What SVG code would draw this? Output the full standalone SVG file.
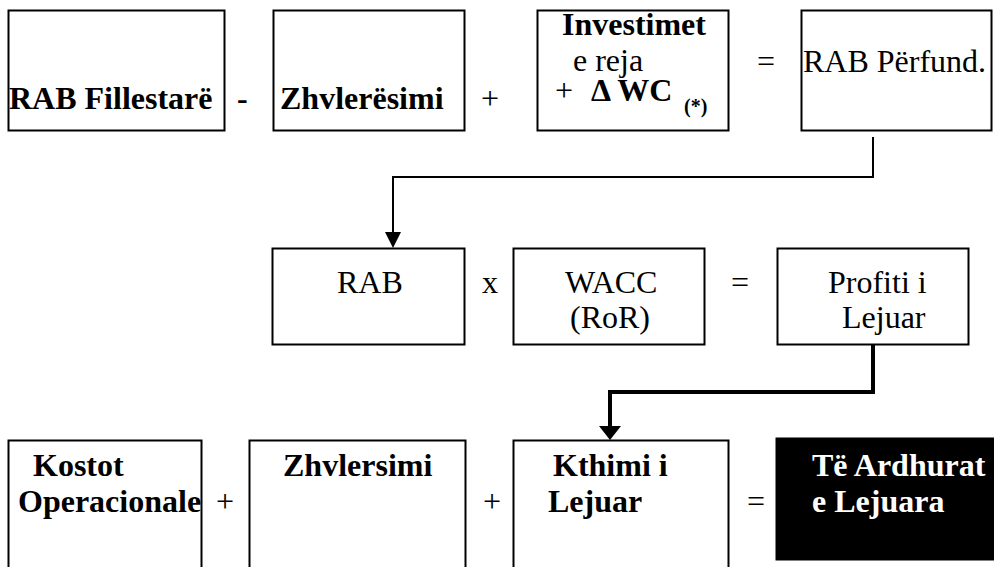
<svg xmlns="http://www.w3.org/2000/svg" width="994" height="567" viewBox="0 0 994 567">
<style>
  .box { fill: #fff; stroke: #000; stroke-width: 2; }
  .dark { fill: #000; stroke: #000; stroke-width: 1; }
  text { font-family: "Liberation Serif", "Times New Roman", serif; font-size: 32px; fill: #000; }
  .b { font-weight: bold; }
  .w { fill: #fff; }
  .sub { font-size: 20px; font-weight: bold; }
  .conn { fill: none; stroke: #000; }
</style>
<defs>
  <marker id="arr1" markerUnits="userSpaceOnUse" viewBox="0 0 16 16" refX="0" refY="8" markerWidth="16" markerHeight="16" orient="auto">
    <path d="M0,0 L16,8 L0,16 z" fill="#000"/>
  </marker>
  <marker id="arr2" markerUnits="userSpaceOnUse" viewBox="0 0 14 22" refX="0" refY="11" markerWidth="14" markerHeight="22" orient="auto">
    <path d="M0,0 L14,11 L0,22 z" fill="#000"/>
  </marker>
</defs>

<g id="connectors">
  <path class="conn" stroke-width="2" d="M873,137 V177 H393 V232" marker-end="url(#arr1)"/>
  <path class="conn" stroke-width="4" d="M873,344 V392 H610 V426" marker-end="url(#arr2)"/>
</g>

<!-- Row 1 -->
<g id="rab-fillestare">
  <rect class="box" x="8.5" y="10.5" width="216" height="120"/>
  <text class="b" x="9" y="109">RAB Fillestarë</text>
</g>
<text class="b" x="237" y="109">-</text>
<g id="zhvleresimi">
  <rect class="box" x="273.5" y="10.5" width="191" height="120"/>
  <text class="b" x="280" y="109">Zhvlerësimi</text>
</g>
<text x="481" y="109">+</text>
<g id="investimet">
  <rect class="box" x="537.5" y="10.5" width="191" height="120"/>
  <text class="b" x="562" y="35">Investimet</text>
  <text x="573" y="71">e reja</text>
  <text x="555" y="101">+</text>
  <text class="b" x="591" y="101">Δ WC</text>
  <text class="sub" x="684" y="113">(*)</text>
</g>
<text x="757" y="72">=</text>
<g id="rab-perfund">
  <rect class="box" x="801.5" y="10.5" width="190" height="120"/>
  <text x="803" y="72">RAB Përfund.</text>
</g>

<!-- Row 2 -->
<g id="rab">
  <rect class="box" x="272.5" y="248.5" width="192" height="96"/>
  <text x="337" y="293">RAB</text>
</g>
<text x="482" y="293">x</text>
<g id="wacc">
  <rect class="box" x="513.5" y="248.5" width="191" height="96"/>
  <text x="565" y="293">WACC</text>
  <text x="570" y="328">(RoR)</text>
</g>
<text x="731" y="293">=</text>
<g id="profiti">
  <rect class="box" x="777.5" y="248.5" width="191" height="96"/>
  <text x="828" y="293">Profiti i</text>
  <text x="842" y="328">Lejuar</text>
</g>

<!-- Row 3 -->
<g id="kostot">
  <rect class="box" x="8.5" y="440.5" width="193" height="140"/>
  <text class="b" x="33" y="476">Kostot</text>
  <text class="b" x="18" y="512">Operacionale</text>
</g>
<text x="216" y="512">+</text>
<g id="zhvlersimi">
  <rect class="box" x="249.5" y="440.5" width="216" height="140"/>
  <text class="b" x="283" y="476">Zhvlersimi</text>
</g>
<text x="483" y="512">+</text>
<g id="kthimi">
  <rect class="box" x="513.5" y="440.5" width="215" height="140"/>
  <text class="b" x="553" y="476">Kthimi i</text>
  <text class="b" x="548" y="512">Lejuar</text>
</g>
<text x="747" y="512">=</text>
<g id="te-ardhurat">
  <rect class="dark" x="776" y="438" width="220" height="122"/>
  <text class="b w" x="812" y="476">Të Ardhurat</text>
  <text class="b w" x="812" y="512">e Lejuara</text>
</g>
</svg>
